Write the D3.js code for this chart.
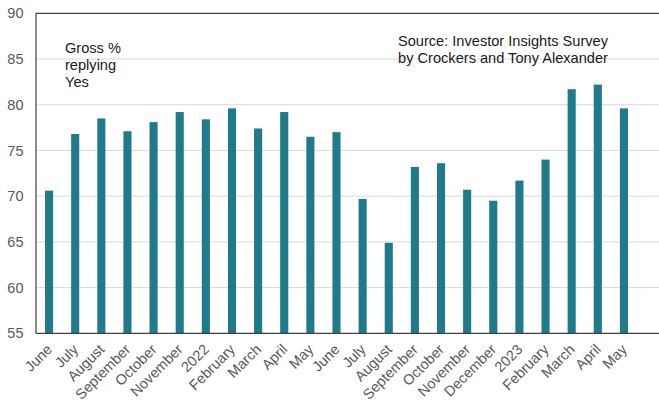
<!DOCTYPE html>
<html>
<head>
<meta charset="utf-8">
<script src="https://cdn.jsdelivr.net/npm/d3@7"></script>
<style>
  html, body { margin: 0; padding: 0; background: #ffffff; }
  svg { display: block; font-family: "Liberation Sans", Arial, sans-serif; }
</style>
</head>
<body>
<svg id="chart" width="659" height="404"></svg>
<script>
const categories = ["June", "July", "August", "September", "October", "November", "2022",
  "February", "March", "April", "May", "June ", "July ", "August ", "September ", "October ",
  "November ", "December", "2023", "February ", "March ", "April ", "May "];
const values = [70.6, 76.8, 78.5, 77.1, 78.1, 79.2, 78.4, 79.6, 77.4, 79.2, 76.5, 77.0,
  69.7, 64.9, 73.2, 73.6, 70.7, 69.5, 71.7, 74.0, 81.7, 82.2, 79.6];
const yTicks = [55, 60, 65, 70, 75, 80, 85, 90];
const noteLines = ["Gross %", "replying", "Yes"];
const sourceLines = ["Source: Investor Insights Survey", "by Crockers and Tony Alexander"];

const svg = d3.select("#chart");
const mLeft = 36, mRight = 659, mTop = 13.3, mBottom = 333.3, barsRight = 637;

const x = d3.scaleBand().domain(categories).range([mLeft, barsRight]).paddingInner(0.69).paddingOuter(0.345);
const y = d3.scaleLinear().domain([55, 90]).range([mBottom, mTop]);

// gridlines
svg.append("g").selectAll("line").data(yTicks.filter(t => t !== 55 && t !== 90)).join("line")
  .attr("x1", mLeft).attr("x2", mRight)
  .attr("y1", d => y(d)).attr("y2", d => y(d))
  .attr("stroke", "#d9d9d9").attr("stroke-width", 1);

// bars
svg.append("g").selectAll("rect").data(values).join("rect")
  .attr("x", (d, i) => x(categories[i]))
  .attr("width", x.bandwidth())
  .attr("y", d => y(d))
  .attr("height", d => y(55) - y(d))
  .attr("fill", "#1f7a8b");

// frame lines: top, left, bottom
svg.append("line").attr("x1", mLeft).attr("x2", mRight).attr("y1", mTop).attr("y2", mTop)
  .attr("stroke", "#404040").attr("stroke-width", 1.2);
svg.append("line").attr("x1", mLeft).attr("x2", mLeft).attr("y1", mTop).attr("y2", mBottom)
  .attr("stroke", "#404040").attr("stroke-width", 1.2);
svg.append("line").attr("x1", mLeft).attr("x2", mRight).attr("y1", mBottom).attr("y2", mBottom)
  .attr("stroke", "#404040").attr("stroke-width", 1.2);

// y axis labels
const yAxis = d3.axisLeft(y).tickValues(yTicks).tickSize(0).tickPadding(12.5);
const gy = svg.append("g").attr("transform", `translate(${mLeft},0)`).call(yAxis);
gy.select(".domain").remove();
gy.selectAll("text").attr("font-size", 14.5).attr("fill", "#595959")
  .attr("font-family", "Liberation Sans, Arial, sans-serif");

// x axis labels
const xAxis = d3.axisBottom(x).tickSize(0).tickPadding(0);
const gx = svg.append("g").attr("transform", `translate(0,${mBottom})`).call(xAxis);
gx.select(".domain").remove();
gx.selectAll("text")
  .text(d => d.trim())
  .attr("font-size", 14.5).attr("fill", "#595959")
  .attr("font-family", "Liberation Sans, Arial, sans-serif")
  .attr("text-anchor", "end")
  .attr("dy", null)
  .attr("y", 0)
  .attr("transform", "translate(4,17) rotate(-45)");

// annotations
const note = svg.append("text").attr("x", 65).attr("y", 52.5).attr("font-size", 14.6).attr("fill", "#1a1a1a");
noteLines.forEach((t, i) => note.append("tspan").attr("x", 65).attr("dy", i === 0 ? 0 : 17).text(t));

const src = svg.append("text").attr("x", 503).attr("y", 45.5).attr("font-size", 14.6)
  .attr("fill", "#1a1a1a").attr("text-anchor", "middle");
sourceLines.forEach((t, i) => src.append("tspan").attr("x", 503).attr("dy", i === 0 ? 0 : 17.3).text(t));
</script>
</body>
</html>
